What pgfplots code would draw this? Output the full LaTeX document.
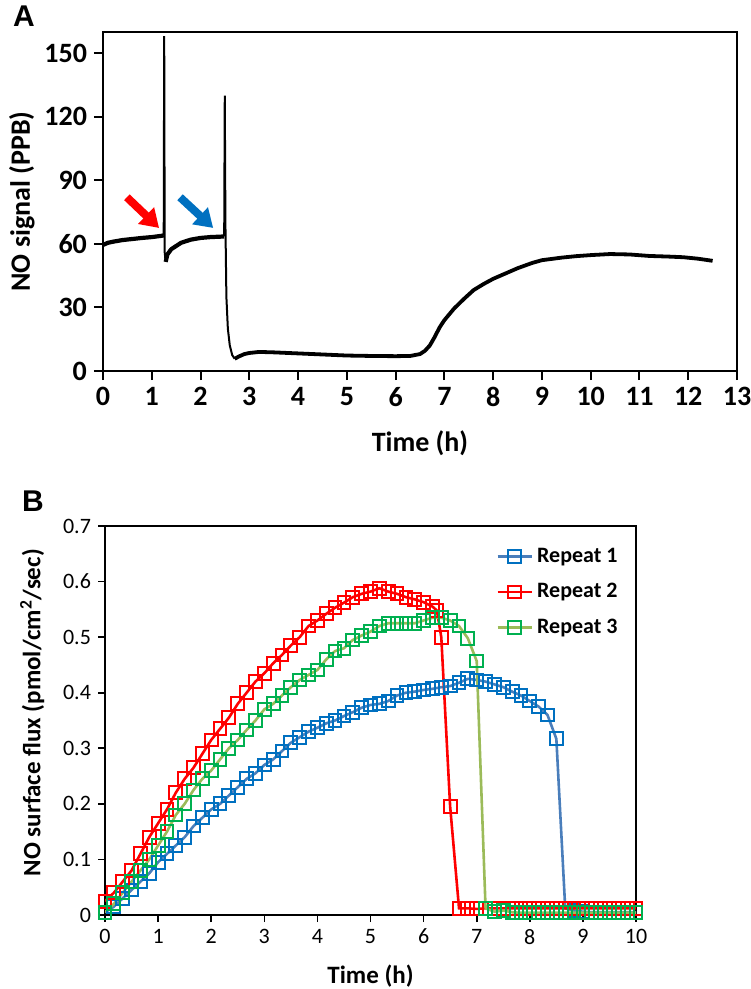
\documentclass[border=0pt]{standalone}
\usepackage{fontspec}
\setmainfont{Carlito}
\newfontfamily\panelfont{Liberation Sans}
\usepackage{pgfplots}
\pgfplotsset{compat=1.18}
\usetikzlibrary{arrows.meta}
\definecolor{RoneLine}{HTML}{4A7EBB}
\definecolor{RoneMark}{HTML}{0070C0}
\definecolor{Rtwo}{HTML}{FF0000}
\definecolor{RthreeLine}{HTML}{9BBB59}
\definecolor{RthreeMark}{HTML}{00B050}

% Panel B series (time in h, flux)
\pgfplotstableread{
t y
0 0.005
0.167 0.015
0.333 0.03
0.5 0.045
0.667 0.06
0.833 0.075
1 0.095
1.167 0.11
1.333 0.125
1.5 0.14
1.667 0.16
1.833 0.175
2 0.19
2.167 0.2
2.333 0.215
2.5 0.23
2.667 0.245
2.833 0.255
3 0.27
3.167 0.28
3.333 0.295
3.5 0.31
3.667 0.32
3.833 0.33
4 0.337
4.167 0.345
4.333 0.35
4.5 0.358
4.667 0.365
4.833 0.373
5 0.378
5.167 0.38
5.333 0.385
5.5 0.395
5.667 0.4
5.833 0.402
6 0.405
6.167 0.407
6.333 0.41
6.5 0.412
6.667 0.418
6.833 0.425
7 0.423
7.167 0.42
7.333 0.415
7.5 0.41
7.667 0.402
7.833 0.395
8 0.385
8.167 0.375
8.333 0.36
8.5 0.317
8.667 0.012
8.833 0.008
9 0.006
9.167 0.005
9.333 0.005
9.5 0.005
9.667 0.005
9.833 0.005
10 0.005
}\repone

\pgfplotstableread{
t y
0 0.025
0.167 0.04
0.333 0.06
0.5 0.08
0.667 0.11
0.833 0.14
1 0.165
1.167 0.19
1.333 0.22
1.5 0.245
1.667 0.265
1.833 0.29
2 0.315
2.167 0.335
2.333 0.355
2.5 0.38
2.667 0.4
2.833 0.42
3 0.435
3.167 0.453
3.333 0.468
3.5 0.485
3.667 0.5
3.833 0.52
4 0.53
4.167 0.542
4.333 0.553
4.5 0.562
4.667 0.572
4.833 0.578
5 0.582
5.167 0.588
5.333 0.582
5.5 0.578
5.667 0.572
5.833 0.568
6 0.563
6.167 0.555
6.25 0.548
6.333 0.5
6.5 0.195
6.667 0.012
6.833 0.012
7 0.011
7.167 0.012
7.333 0.012
7.5 0.012
7.667 0.012
7.833 0.012
8 0.012
8.167 0.012
8.333 0.012
8.5 0.012
8.667 0.012
8.833 0.012
9 0.012
9.167 0.012
9.333 0.012
9.5 0.012
9.667 0.012
9.833 0.012
10 0.012
}\reptwo

\pgfplotstableread{
t y
0 0.005
0.167 0.02
0.333 0.04
0.5 0.06
0.667 0.08
0.833 0.1
1 0.125
1.167 0.15
1.333 0.18
1.5 0.2
1.667 0.225
1.833 0.245
2 0.26
2.167 0.28
2.333 0.3
2.5 0.315
2.667 0.333
2.833 0.35
3 0.37
3.167 0.38
3.333 0.395
3.5 0.41
3.667 0.423
3.833 0.432
4 0.441
4.167 0.46
4.333 0.475
4.5 0.48
4.667 0.495
4.833 0.503
5 0.51
5.167 0.52
5.333 0.525
5.5 0.525
5.667 0.525
5.833 0.525
6 0.53
6.167 0.535
6.333 0.535
6.5 0.53
6.667 0.52
6.833 0.498
7 0.457
7.167 0.012
7.333 0.006
7.5 0.008
7.667 0.005
7.833 0.004
8 0.004
8.167 0.004
8.333 0.004
8.5 0.004
8.667 0.004
8.833 0.004
9 0.004
9.167 0.004
9.333 0.004
9.5 0.004
9.667 0.004
9.833 0.004
10 0.004
}\repthree

\begin{document}
\begin{tikzpicture}
\path[use as bounding box] (0,0) rectangle (375pt,-494.5pt);

\node[font=\panelfont\bfseries\fontsize{15}{17}\selectfont] at (12pt,-8pt) {A};
\node[font=\panelfont\bfseries\fontsize{15}{17}\selectfont] at (16.5pt,-250.5pt) {B};

% ---------- panel A ----------
\begin{axis}[
  at={(51.5pt,-185.5pt)}, anchor=south west,
  width=317pt, height=169.5pt, scale only axis,
  xmin=0, xmax=13, ymin=0, ymax=160,
  xtick={0,1,...,13}, ytick={0,30,...,150},
  tick align=outside, xtick pos=bottom, ytick pos=left,
  major tick length=4.5pt,
  axis line style={line width=1pt},
  tick style={black, line width=1pt},
  /pgf/number format/assume math mode=true,
  ticklabel style={font=\bfseries\fontsize{14}{16}\selectfont},
  label style={font=\bfseries\fontsize{14}{16}\selectfont},
  xlabel={Time (h)}, ylabel={NO signal (PPB)},
  xlabel style={at={(axis description cs:0.5,-0.212)}, anchor=center},
  ylabel style={at={(axis description cs:-0.128,0.5)}, anchor=center},
]
\addplot[black, line width=2.1pt, line join=round] coordinates {
  (0,59.5) (0.1,60.5) (0.2,61) (0.4,61.8) (0.6,62.3) (0.8,62.8) (1.0,63.2) (1.2,63.8) (1.245,64)
};
\addplot[black, line width=1pt] coordinates {
  (1.245,64) (1.255,158) (1.265,56) (1.285,51.5)
};
\addplot[black, line width=2.1pt, line join=round] coordinates {
  (1.285,51.5) (1.32,55) (1.4,57.5) (1.5,59) (1.6,60.5) (1.8,62) (2.0,62.8) (2.2,63.2) (2.4,63.4) (2.485,63.5)
};
\addplot[black, line width=1pt] coordinates {
  (2.485,63.5) (2.497,130) (2.51,70) (2.53,35) (2.56,20) (2.6,12) (2.65,7.5) (2.7,5.8)
};
\addplot[black, line width=1.9pt, line join=round] coordinates {
  (2.7,5.8) (2.8,7) (2.9,8) (3.0,8.5) (3.2,9) (3.5,8.8) (4.0,8.3) (4.5,7.8) (5.0,7.3)
  (5.5,7.1) (6.0,7) (6.3,7.1) (6.5,8) (6.6,9.5) (6.7,12) (6.8,16) (6.9,20.5) (7.0,24)
  (7.2,29.5) (7.4,34) (7.6,38.2) (7.8,41) (8.0,43.5) (8.2,45.5) (8.5,48.5) (8.8,51)
  (9.0,52.3) (9.4,53.5) (9.7,54.2) (10.0,54.7) (10.4,55.2) (10.8,55) (11.2,54.3)
  (11.6,54) (11.9,53.7) (12.2,53) (12.5,52)
};
\draw[Rtwo, line width=4pt, -{Triangle[length=9pt,width=11pt]}]
  (axis cs:0.49,82) -- (axis cs:1.15,67.5);
\draw[RoneMark, line width=4pt, -{Triangle[length=9pt,width=11pt]}]
  (axis cs:1.58,82) -- (axis cs:2.26,67.5);
\end{axis}

% ---------- panel B ----------
\begin{axis}[
  at={(52.5pt,-457.5pt)}, anchor=south west,
  width=265.5pt, height=194.5pt, scale only axis,
  xmin=0, xmax=10, ymin=0, ymax=0.7,
  xtick={0,1,...,10}, ytick={0,0.1,0.2,0.3,0.4,0.5,0.6,0.7},
  tick align=outside, xtick pos=bottom, ytick pos=left,
  major tick length=3.5pt,
  axis line style={line width=0.8pt},
  tick style={black, line width=0.8pt},
  /pgf/number format/assume math mode=true,
  yticklabel style={/pgf/number format/.cd, fixed, precision=1},
  ticklabel style={font=\fontsize{11}{13}\selectfont},
  label style={font=\bfseries\fontsize{12.5}{14}\selectfont},
  xlabel={Time (h)}, ylabel={NO surface flux (pmol/cm\textsuperscript{2}/sec)},
  xlabel style={at={(axis description cs:0.5,-0.157)}, anchor=center},
  ylabel style={at={(axis description cs:-0.137,0.52)}, anchor=center},
  legend style={at={(axis description cs:0.725,0.965)}, anchor=north west,
    draw=none, fill=none, font=\bfseries\fontsize{11}{13}\selectfont,
    row sep=5pt},
  legend cell align=left,
]
\addplot[RoneLine, line width=1.3pt, mark=square, mark size=3.2pt,
  mark options={draw=RoneMark, line width=1pt, solid}] table[x=t,y=y] {\repone};
\addlegendentry{Repeat 1}
\addplot[Rtwo, line width=1.3pt, mark=square, mark size=3.2pt,
  mark options={draw=Rtwo, line width=1pt, solid}] table[x=t,y=y] {\reptwo};
\addlegendentry{Repeat 2}
\addplot[RthreeLine, line width=1.3pt, mark=square, mark size=3.2pt,
  mark options={draw=RthreeMark, line width=1pt, solid}] table[x=t,y=y] {\repthree};
\addlegendentry{Repeat 3}
\end{axis}
\end{tikzpicture}
\end{document}
